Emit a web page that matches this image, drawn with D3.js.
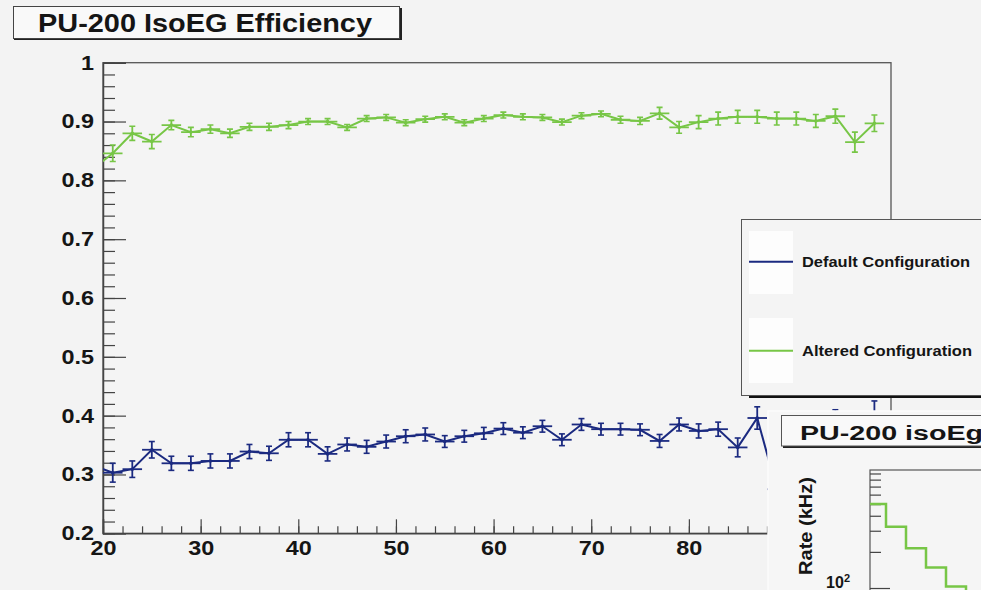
<!DOCTYPE html>
<html>
<head>
<meta charset="utf-8">
<script src="https://cdn.jsdelivr.net/npm/d3@7"></script>
<style>
  html, body { margin: 0; padding: 0; background: #f3f3f3; }
  svg { display: block; }
  text { font-family: "Liberation Sans", Arial, Helvetica, sans-serif; font-weight: bold; fill: #151515; }
</style>
</head>
<body>
<svg id="chart" width="981" height="590"></svg>
<script>
// Offline threshold bins (GeV): centres of 2 GeV wide bins
const binCentres = [19, 21, 23, 25, 27, 29, 31, 33, 35, 37, 39, 41, 43, 45, 47, 49, 51, 53, 55, 57,
                    59, 61, 63, 65, 67, 69, 71, 73, 75, 77, 79, 81, 83, 85, 87, 89, 91, 93, 95, 97, 99];
const binHalfWidth = 1;

// IsoEG efficiency, default configuration
const defaultEff = [0.315, 0.303, 0.309, 0.342, 0.319, 0.319, 0.323, 0.323, 0.339, 0.336, 0.359,
                    0.359, 0.335, 0.351, 0.347, 0.356, 0.365, 0.368, 0.356, 0.365, 0.370, 0.378,
                    0.371, 0.382, 0.359, 0.385, 0.377, 0.377, 0.376, 0.357, 0.385, 0.374, 0.377,
                    0.346, 0.396, 0.275, 0.380, 0.372, 0.388, 0.381, 0.400];
const defaultErr = [0.016, 0.016, 0.014, 0.014, 0.012, 0.012, 0.012, 0.012, 0.012, 0.012, 0.012,
                    0.012, 0.012, 0.011, 0.011, 0.011, 0.011, 0.011, 0.010, 0.010, 0.010, 0.010,
                    0.010, 0.010, 0.010, 0.010, 0.010, 0.010, 0.010, 0.011, 0.011, 0.012, 0.012,
                    0.016, 0.019, 0.022, 0.020, 0.020, 0.022, 0.022, 0.025];

// IsoEG efficiency, altered configuration
const alteredEff = [0.820, 0.846, 0.880, 0.866, 0.894, 0.882, 0.887, 0.880, 0.891, 0.891, 0.894,
                    0.900, 0.900, 0.890, 0.905, 0.907, 0.898, 0.904, 0.908, 0.898, 0.905, 0.911,
                    0.908, 0.907, 0.899, 0.910, 0.913, 0.903, 0.901, 0.914, 0.890, 0.899, 0.905,
                    0.908, 0.908, 0.905, 0.905, 0.901, 0.909, 0.865, 0.897];
const alteredErr = [0.016, 0.014, 0.012, 0.012, 0.008, 0.008, 0.007, 0.007, 0.006, 0.006, 0.006,
                    0.005, 0.005, 0.005, 0.005, 0.005, 0.005, 0.005, 0.005, 0.005, 0.005, 0.005,
                    0.005, 0.005, 0.005, 0.005, 0.005, 0.006, 0.006, 0.010, 0.010, 0.011, 0.011,
                    0.011, 0.011, 0.011, 0.011, 0.011, 0.012, 0.017, 0.014];

const seriesNames = ["Default Configuration", "Altered Configuration"];
const seriesColors = ["#1b2a80", "#77c646"];

const yTickValues = [0.2, 0.3, 0.4, 0.5, 0.6, 0.7, 0.8, 0.9, 1];
const xTickValues = [20, 30, 40, 50, 60, 70, 80, 90, 100];

// Rate panel: isoEG rate per threshold bin (kHz)
const rateEdges = [19, 20, 21, 22, 23, 24, 25];
const rateValues = [501, 324, 214, 148, 103, 70];

const titleText = "PU-200 IsoEG Efficiency";
const rateTitleText = "PU-200 isoEg";
const rateAxisLabel = "Rate (kHz)";

// ---------------------------------------------------------------------------
const svg = d3.select("#chart");
const W = 981, H = 590;
const frame = { left: 103, right: 891, top: 62.7, bottom: 533.3 };

function stretch(sel, k) {
  sel.each(function () {
    const w = this.getComputedTextLength();
    d3.select(this).attr("textLength", w * k).attr("lengthAdjust", "spacingAndGlyphs");
  });
}

svg.append("rect").attr("width", W).attr("height", H).attr("fill", "#f3f3f3");

const x = d3.scaleLinear().domain([20, 100.7]).range([frame.left, frame.right]);
const y = d3.scaleLinear().domain([0.2, 1]).range([frame.bottom, frame.top]);

// Frame
svg.append("rect")
  .attr("x", frame.left).attr("y", frame.top)
  .attr("width", frame.right - frame.left).attr("height", frame.bottom - frame.top)
  .attr("fill", "#f4f4f4").attr("stroke", "#555").attr("stroke-width", 1.3);

// Y axis: major + minor ticks pointing into the frame
const yMinor = d3.range(0.2, 1.0001, 0.02).map(v => +v.toFixed(2));
svg.append("g").attr("transform", `translate(${frame.left},0)`)
  .call(d3.axisLeft(y).tickValues(yMinor).tickSize(-12).tickFormat(""))
  .call(g => g.select(".domain").remove())
  .call(g => g.selectAll("line").attr("stroke", "#444").attr("stroke-width", 1.2));

const yAxis = svg.append("g").attr("transform", `translate(${frame.left},0)`)
  .call(d3.axisLeft(y).tickValues(yTickValues).tickSize(-23).tickPadding(9)
    .tickFormat(d => d === 1 ? "1" : d.toFixed(1)));
yAxis.select(".domain").attr("stroke", "#444").attr("stroke-width", 1.5);
yAxis.selectAll("line").attr("stroke", "#444").attr("stroke-width", 1.2);
yAxis.selectAll("text").attr("font-size", 20).attr("font-family", null).attr("fill", "#151515");
stretch(yAxis.selectAll("text"), 1.17);

// X axis
const xMinor = d3.range(20, 101, 2);
svg.append("g").attr("transform", `translate(0,${frame.bottom})`)
  .call(d3.axisBottom(x).tickValues(xMinor).tickSize(-7).tickFormat(""))
  .call(g => g.select(".domain").remove())
  .call(g => g.selectAll("line").attr("stroke", "#444").attr("stroke-width", 1.2));

const xAxis = svg.append("g").attr("transform", `translate(0,${frame.bottom})`)
  .call(d3.axisBottom(x).tickValues(xTickValues).tickSize(-14).tickPadding(8).tickFormat(d3.format("d")));
xAxis.select(".domain").attr("stroke", "#444").attr("stroke-width", 1.5);
xAxis.selectAll("line").attr("stroke", "#444").attr("stroke-width", 1.2);
xAxis.selectAll("text").attr("font-size", 20).attr("font-family", null).attr("fill", "#151515");
stretch(xAxis.selectAll("text"), 1.17);

// Data series, clipped to the frame
svg.append("clipPath").attr("id", "frameClip").append("rect")
  .attr("x", frame.left).attr("y", frame.top)
  .attr("width", frame.right - frame.left).attr("height", frame.bottom - frame.top);

const plot = svg.append("g").attr("clip-path", "url(#frameClip)");
const seriesData = [
  binCentres.map((c, i) => ({ c, v: defaultEff[i], e: defaultErr[i] })),
  binCentres.map((c, i) => ({ c, v: alteredEff[i], e: alteredErr[i] }))
];
const line = d3.line().x(d => x(d.c)).y(d => y(d.v));

seriesData.forEach((data, s) => {
  const col = seriesColors[s];
  const g = plot.append("g");
  g.append("path").datum(data).attr("d", line)
    .attr("fill", "none").attr("stroke", col).attr("stroke-width", 2);
  const pt = g.selectAll("g.pt").data(data).join("g").attr("class", "pt");
  pt.append("line")
    .attr("x1", d => x(d.c - binHalfWidth)).attr("x2", d => x(d.c + binHalfWidth))
    .attr("y1", d => y(d.v)).attr("y2", d => y(d.v))
    .attr("stroke", col).attr("stroke-width", 1.8);
  pt.append("line")
    .attr("x1", d => x(d.c)).attr("x2", d => x(d.c))
    .attr("y1", d => y(d.v - d.e)).attr("y2", d => y(d.v + d.e))
    .attr("stroke", col).attr("stroke-width", 1.8);
  pt.append("line")
    .attr("x1", d => x(d.c) - 3).attr("x2", d => x(d.c) + 3)
    .attr("y1", d => y(d.v + d.e)).attr("y2", d => y(d.v + d.e))
    .attr("stroke", col).attr("stroke-width", 1.6);
  pt.append("line")
    .attr("x1", d => x(d.c) - 3).attr("x2", d => x(d.c) + 3)
    .attr("y1", d => y(d.v - d.e)).attr("y2", d => y(d.v - d.e))
    .attr("stroke", col).attr("stroke-width", 1.6);
  pt.append("circle").attr("cx", d => x(d.c)).attr("cy", d => y(d.v)).attr("r", 1.8).attr("fill", col);
});

// Title box
svg.append("rect").attr("x", 14).attr("y", 8).attr("width", 388).attr("height", 32).attr("fill", "#222");
svg.append("rect").attr("x", 13.5).attr("y", 6.5).attr("width", 386).attr("height", 32)
  .attr("fill", "#f9f9f9").attr("stroke", "#444").attr("stroke-width", 1);
svg.append("text").attr("x", 38).attr("y", 32).attr("font-size", 26)
  .attr("textLength", 334).attr("lengthAdjust", "spacingAndGlyphs").text(titleText);

// Legend
const leg = svg.append("g");
leg.append("rect").attr("x", 749).attr("y", 222).attr("width", 240).attr("height", 176).attr("fill", "#111");
leg.append("rect").attr("x", 741.5).attr("y", 219.5).attr("width", 260).attr("height", 176)
  .attr("fill", "#f4f4f4").attr("stroke", "#555").attr("stroke-width", 1);
const legRows = [{ y0: 231, h: 63, ly: 261.7 }, { y0: 318, h: 65, ly: 350.7 }];
legRows.forEach((r, i) => {
  leg.append("rect").attr("x", 749).attr("y", r.y0).attr("width", 44).attr("height", r.h).attr("fill", "#fdfdfd");
  leg.append("line").attr("x1", 749).attr("x2", 793).attr("y1", r.ly).attr("y2", r.ly)
    .attr("stroke", seriesColors[i]).attr("stroke-width", 2);
  leg.append("text").attr("x", 802).attr("y", r.ly + 5).attr("font-size", 14)
    .attr("fill", "#222").attr("textLength", i === 0 ? 168 : 170)
    .attr("lengthAdjust", "spacingAndGlyphs").text(seriesNames[i]);
});

// Rate panel (lower right)
const panel = { left: 768, top: 411 };
const rf = { left: 870, top: 470 };
svg.append("rect").attr("x", panel.left).attr("y", panel.top)
  .attr("width", W - panel.left + 2).attr("height", H - panel.top + 2)
  .attr("fill", "#f6f6f6").attr("stroke", "#fbfbfb").attr("stroke-width", 1.5);

const rx = d3.scaleLinear().domain([19.2, 24.75]).range([rf.left, W]);
const ry = d3.scaleLog().domain([100, 1000]).range([588, 468]);

svg.append("rect").attr("x", rf.left).attr("y", rf.top).attr("width", W - rf.left + 5).attr("height", H - rf.top + 5)
  .attr("fill", "#f5f5f5").attr("stroke", "#555").attr("stroke-width", 1.2);

const logTicks = [100, 200, 300, 400, 500, 600, 700, 800, 900];
svg.append("g").attr("transform", `translate(${rf.left},0)`)
  .call(d3.axisLeft(ry).tickValues(logTicks).tickSize(0).tickFormat(""))
  .call(g => g.select(".domain").remove())
  .call(g => g.selectAll(".tick line").remove())
  .call(g => g.selectAll(".tick").append("line")
    .attr("x1", 0).attr("x2", d => (d === 100 ? 20 : 11))
    .attr("stroke", "#444").attr("stroke-width", 1.2));

svg.append("clipPath").attr("id", "rateClip").append("rect")
  .attr("x", rf.left).attr("y", rf.top).attr("width", W - rf.left).attr("height", H - rf.top);
const stepPts = rateValues.map((v, i) => ({ e: rateEdges[i], v }));
stepPts.push({ e: rateEdges[rateEdges.length - 1], v: rateValues[rateValues.length - 1] });
svg.append("path").datum(stepPts).attr("clip-path", "url(#rateClip)")
  .attr("d", d3.line().x(d => rx(d.e)).y(d => ry(d.v)).curve(d3.curveStepAfter))
  .attr("fill", "none").attr("stroke", seriesColors[1]).attr("stroke-width", 2.5);

// "10^2" label for the rate axis
const decade = svg.append("text").attr("x", 850).attr("y", 588).attr("font-size", 16)
  .attr("text-anchor", "end");
decade.append("tspan").text("10");
decade.append("tspan").attr("font-size", 11).attr("dy", -6).text("2");

// Rate axis title
svg.append("text").attr("transform", "translate(812,526) rotate(-90)")
  .attr("text-anchor", "middle").attr("font-size", 18)
  .attr("textLength", 98).attr("lengthAdjust", "spacingAndGlyphs").text(rateAxisLabel);

// Rate panel title box
svg.append("rect").attr("x", 783).attr("y", 417).attr("width", 210).attr("height", 31).attr("fill", "#222");
svg.append("rect").attr("x", 781.5).attr("y", 415.5).attr("width", 210).attr("height", 30.5)
  .attr("fill", "#f9f9f9").attr("stroke", "#555").attr("stroke-width", 1);
svg.append("text").attr("x", 800).attr("y", 439.5).attr("font-size", 20)
  .attr("textLength", 183).attr("lengthAdjust", "spacingAndGlyphs").text(rateTitleText);
</script>
</body>
</html>
